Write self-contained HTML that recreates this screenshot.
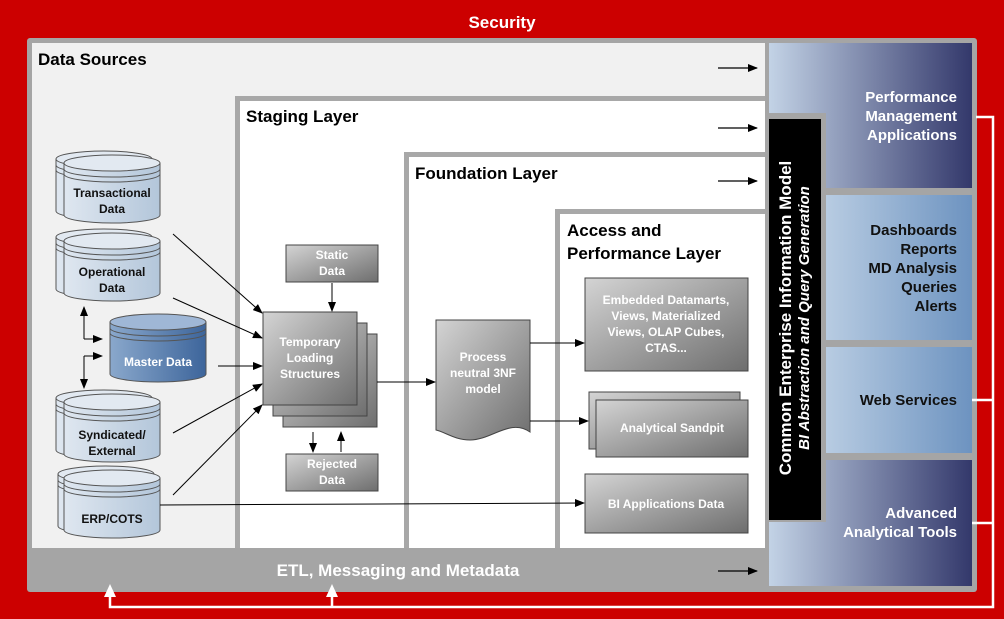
<!DOCTYPE html>
<html><head><meta charset="utf-8"><style>
html,body{margin:0;padding:0;background:#c00;}
svg{display:block;font-family:"Liberation Sans",Arial,sans-serif;font-weight:bold;}
</style></head><body>
<svg width="1004" height="619" viewBox="0 0 1004 619" xmlns="http://www.w3.org/2000/svg">
<defs>
<linearGradient id="gbox" x1="0" y1="0" x2="1" y2="1"><stop offset="0" stop-color="#d4d4d4"/><stop offset="1" stop-color="#6e6e6e"/></linearGradient>
<linearGradient id="gcyl" x1="0" y1="0" x2="1" y2="0"><stop offset="0" stop-color="#dfe7f0"/><stop offset="1" stop-color="#b3c6da"/></linearGradient>
<linearGradient id="gmas" x1="0" y1="0" x2="1" y2="0"><stop offset="0" stop-color="#8aa8cc"/><stop offset="1" stop-color="#3d659b"/></linearGradient>
<linearGradient id="gdark" x1="0" y1="0" x2="1" y2="0"><stop offset="0" stop-color="#c3d3e6"/><stop offset="1" stop-color="#33386b"/></linearGradient>
<linearGradient id="glight" x1="0" y1="0" x2="1" y2="0"><stop offset="0" stop-color="#b8cce2"/><stop offset="1" stop-color="#6d93c0"/></linearGradient>
<marker id="ah" markerWidth="10" markerHeight="8" refX="9" refY="4" orient="auto" markerUnits="userSpaceOnUse"><path d="M0,0 L10,4 L0,8z" fill="#000"/></marker>
<g id="cyl">
<path d="M-48,-26 v52 a48,8 0 0 0 96,0 v-52" fill="url(#gcyl)" stroke="#555"/>
<ellipse cx="0" cy="-26" rx="48" ry="8" fill="#e2e9f1" stroke="#555"/>
<path d="M-48,-20 a48,8 0 0 0 96,0 M-48,-15 a48,8 0 0 0 96,0" fill="none" stroke="#555"/>
</g>
</defs>
<rect width="1004" height="619" fill="#cc0000"/>
<text x="502" y="28" fill="#fff" font-size="17" text-anchor="middle">Security</text>
<rect x="27" y="38" width="950" height="554" fill="#a5a5a5" rx="3"/>
<rect x="32" y="43" width="733" height="505" fill="#f1f1f1"/>
<text x="38" y="65" font-size="17">Data Sources</text>
<rect x="235" y="96" width="530" height="452" fill="#a8a8a8"/>
<rect x="240" y="101" width="525" height="447" fill="#fff"/>
<text x="246" y="122" font-size="17">Staging Layer</text>
<rect x="404" y="152" width="361" height="396" fill="#a8a8a8"/>
<rect x="409" y="157" width="356" height="391" fill="#fff"/>
<text x="415" y="179" font-size="17">Foundation Layer</text>
<rect x="555" y="209" width="210" height="339" fill="#a8a8a8"/>
<rect x="560" y="214" width="205" height="334" fill="#fff"/>
<text x="567" y="236" font-size="17">Access and</text>
<text x="567" y="259" font-size="17">Performance Layer</text>
<text x="398" y="576" fill="#fff" font-size="17" text-anchor="middle">ETL, Messaging and Metadata</text>
<g stroke="#000" stroke-width="1.3" marker-end="url(#ah)">
<line x1="718" y1="68" x2="757" y2="68"/><line x1="718" y1="128" x2="757" y2="128"/>
<line x1="718" y1="181" x2="757" y2="181"/><line x1="718" y1="571" x2="757" y2="571"/>
</g>
<!-- right column -->
<path d="M769,43 H972 V188 H826 V113 H769z" fill="url(#gdark)"/>
<rect x="826" y="195" width="146" height="145" fill="url(#glight)"/>
<rect x="826" y="347" width="146" height="106" fill="url(#glight)"/>
<path d="M826,460 H972 V586 H769 V522 H826z" fill="url(#gdark)"/>
<rect x="769" y="119" width="52" height="401" fill="#000"/>
<g font-size="15" text-anchor="end">
<text x="957" y="102" fill="#fff">Performance</text><text x="957" y="121" fill="#fff">Management</text><text x="957" y="140" fill="#fff">Applications</text>
<text x="957" y="235" fill="#111">Dashboards</text><text x="957" y="254" fill="#111">Reports</text><text x="957" y="273" fill="#111">MD Analysis</text><text x="957" y="292" fill="#111">Queries</text><text x="957" y="311" fill="#111">Alerts</text>
<text x="957" y="405" fill="#111">Web Services</text>
<text x="957" y="518" fill="#fff">Advanced</text><text x="957" y="537" fill="#fff">Analytical Tools</text>
</g>
<text transform="translate(791,318) rotate(-90)" fill="#fff" font-size="17" text-anchor="middle">Common Enterprise Information Model</text>
<text transform="translate(809,318) rotate(-90)" fill="#fff" font-size="15" font-style="italic" text-anchor="middle">BI Abstraction and Query Generation</text>
<!-- white feedback lines -->
<g stroke="#fff" stroke-width="2.5" fill="none">
<polyline points="976,117 993,117 993,607 110,607 110,595"/>
<line x1="332" y1="607" x2="332" y2="595"/>
<line x1="972" y1="400" x2="993" y2="400"/><line x1="972" y1="523" x2="993" y2="523"/>
</g>
<path d="M104,597 L110,584 L116,597z M326,597 L332,584 L338,597z" fill="#fff"/>
<!-- cylinders -->
<g font-size="12" text-anchor="middle" fill="#111">
<use href="#cyl" x="104" y="185"/><use href="#cyl" x="112" y="189"/>
<text x="112" y="197">Transactional</text><text x="112" y="213">Data</text>
<use href="#cyl" x="104" y="263"/><use href="#cyl" x="112" y="267"/>
<text x="112" y="276">Operational</text><text x="112" y="292">Data</text>
<g transform="translate(158,348)">
<path d="M-48,-26 v52 a48,8 0 0 0 96,0 v-52" fill="url(#gmas)" stroke="#555"/>
<ellipse cx="0" cy="-26" rx="48" ry="8" fill="#9fb7d6" stroke="#555"/>
<path d="M-48,-20 a48,8 0 0 0 96,0 M-48,-15 a48,8 0 0 0 96,0" fill="none" stroke="#555"/>
</g>
<text x="158" y="366" fill="#fff">Master Data</text>
<use href="#cyl" x="104" y="424"/><use href="#cyl" x="112" y="428"/>
<text x="112" y="439">Syndicated/</text><text x="112" y="455">External</text>
<use href="#cyl" x="106" y="500"/><use href="#cyl" x="112" y="504"/>
<text x="112" y="523">ERP/COTS</text>
</g>
<!-- staging boxes -->
<rect x="286" y="245" width="92" height="37" fill="url(#gbox)" stroke="#444"/>
<rect x="286" y="454" width="92" height="37" fill="url(#gbox)" stroke="#444"/>
<rect x="283" y="334" width="94" height="93" fill="url(#gbox)" stroke="#444"/>
<rect x="273" y="323" width="94" height="93" fill="url(#gbox)" stroke="#444"/>
<rect x="263" y="312" width="94" height="93" fill="url(#gbox)" stroke="#444"/>
<g font-size="12" text-anchor="middle" fill="#fff">
<text x="332" y="259">Static</text><text x="332" y="275">Data</text>
<text x="332" y="468">Rejected</text><text x="332" y="484">Data</text>
<text x="310" y="346">Temporary</text><text x="310" y="362">Loading</text><text x="310" y="378">Structures</text>
</g>
<!-- process doc -->
<path d="M436,320 H530 V432 C510,418 492,440 470,440 C455,440 445,432 436,430 Z" fill="url(#gbox)" stroke="#444"/>
<g font-size="12" text-anchor="middle" fill="#fff"><text x="483" y="361">Process</text><text x="483" y="377">neutral 3NF</text><text x="483" y="393">model</text></g>
<!-- access boxes -->
<rect x="585" y="278" width="163" height="93" fill="url(#gbox)" stroke="#444"/>
<rect x="589" y="392" width="151" height="57" fill="url(#gbox)" stroke="#444"/>
<rect x="596" y="400" width="152" height="57" fill="url(#gbox)" stroke="#444"/>
<rect x="585" y="474" width="163" height="59" fill="url(#gbox)" stroke="#444"/>
<g font-size="12" text-anchor="middle" fill="#fff">
<text x="666" y="304">Embedded Datamarts,</text><text x="666" y="320">Views, Materialized</text><text x="666" y="336">Views, OLAP Cubes,</text><text x="666" y="352">CTAS...</text>
<text x="672" y="432">Analytical Sandpit</text>
<text x="666" y="508">BI Applications Data</text>
</g>
<!-- connectors -->
<g stroke="#000" stroke-width="1" fill="none" marker-end="url(#ah)">
<line x1="173" y1="234" x2="262" y2="313"/>
<line x1="173" y1="298" x2="262" y2="338"/>
<line x1="218" y1="366" x2="262" y2="366"/>
<line x1="173" y1="433" x2="262" y2="384"/>
<line x1="173" y1="495" x2="262" y2="405"/>
<line x1="332" y1="283" x2="332" y2="311"/>
<line x1="313" y1="432" x2="313" y2="452"/>
<line x1="341" y1="452" x2="341" y2="432"/>
<line x1="377" y1="382" x2="435" y2="382"/>
<line x1="530" y1="343" x2="584" y2="343"/>
<line x1="530" y1="421" x2="588" y2="421"/>
<line x1="160" y1="505" x2="584" y2="503"/>
<polyline points="84,339 102,339"/>
<polyline points="84,339 84,307"/>
<polyline points="84,356 102,356"/>
<polyline points="84,356 84,388"/>
</g>
</svg>
</body></html>
